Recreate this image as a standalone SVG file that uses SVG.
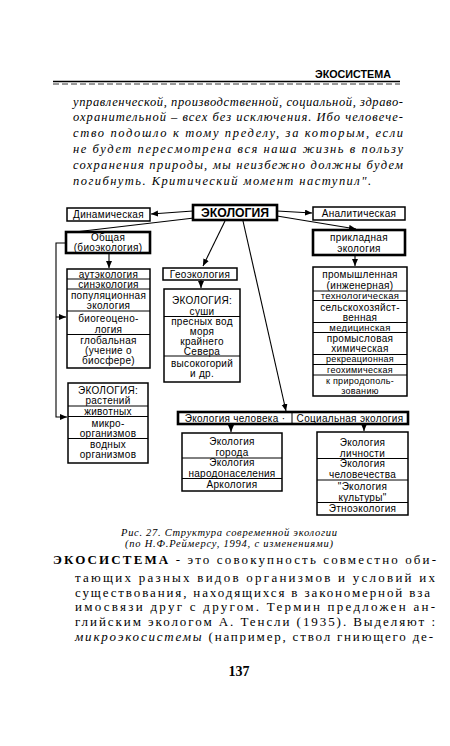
<svg xmlns="http://www.w3.org/2000/svg" width="450" height="746" viewBox="0 0 450 746">
<style>
.bx{fill:#fff;stroke:#000;stroke-width:1.5}
.bk{fill:#fff;stroke:#000;stroke-width:2.6}
.sp{stroke:#000;stroke-width:1;fill:none}
.t{font-family:"Liberation Sans",Arial,sans-serif;font-size:10px;letter-spacing:0.3px;text-anchor:middle;fill:#000}
.s{font-size:9.5px}
.xs{font-size:9px}
.ln{stroke:#000;stroke-width:1.1;fill:none}
.it{font-family:"Liberation Serif","Times New Roman",serif;font-style:italic;font-size:12.5px;fill:#000}
.bd{font-family:"Liberation Serif","Times New Roman",serif;font-size:13px;fill:#000}
.cap{font-family:"Liberation Serif","Times New Roman",serif;font-style:italic;font-size:10.5px;fill:#000}
</style>
<defs>
<marker id="ar" markerUnits="userSpaceOnUse" markerWidth="8" markerHeight="7" refX="7" refY="3" orient="auto">
<path d="M0,0 L7,3 L0,6 z" fill="#000"/>
</marker>
</defs>
<rect width="450" height="746" fill="#fff"/>

<!-- header -->
<g id="header">
<text x="315" y="78" font-family="'Liberation Sans',Arial,sans-serif" font-weight="bold" font-size="11" textLength="76" lengthAdjust="spacingAndGlyphs">ЭКОСИСТЕМА</text>
<line x1="53" y1="81.5" x2="400" y2="81.5" stroke="#000" stroke-width="1.3"/>
<line x1="53" y1="84" x2="400" y2="84" stroke="#000" stroke-width="0.8" stroke-dasharray="6,3"/>
</g>

<!-- italic paragraph -->
<g id="quote">
<text class="it" x="73" y="106" textLength="330" lengthAdjust="spacing">управленческой, производственной, социальной, здраво-</text>
<text class="it" x="73" y="121" textLength="330" lengthAdjust="spacing">охранительной – всех без исключения. Ибо человече-</text>
<text class="it" x="73" y="137" textLength="330" lengthAdjust="spacing">ство подошло к тому пределу, за которым, если</text>
<text class="it" x="73" y="153" textLength="330" lengthAdjust="spacing">не будет пересмотрена вся наша жизнь в пользу</text>
<text class="it" x="73" y="169" textLength="330" lengthAdjust="spacing">сохранения природы, мы неизбежно должны будем</text>
<text class="it" x="73" y="185" textLength="298" lengthAdjust="spacing">погибнуть. Критический момент наступил".</text>
</g>

<!-- connectors -->
<g id="connectors">
<line class="ln" x1="193" y1="211" x2="151" y2="214" marker-end="url(#ar)"/>
<line class="ln" x1="277" y1="211" x2="312" y2="213" marker-end="url(#ar)"/>
<line class="ln" x1="194" y1="218" x2="75" y2="232"/>
<line class="ln" x1="277" y1="216" x2="356" y2="229" marker-end="url(#ar)"/>
<line class="ln" x1="225" y1="221" x2="203" y2="266" marker-end="url(#ar)"/>
<line class="ln" x1="243" y1="221" x2="286" y2="411" marker-end="url(#ar)"/>
<line class="ln" x1="109" y1="253" x2="109" y2="268" marker-end="url(#ar)"/>
<line class="ln" x1="201" y1="280" x2="201" y2="288" marker-end="url(#ar)"/>
<line class="ln" x1="355" y1="255" x2="355" y2="266" marker-end="url(#ar)"/>
<path class="ln" d="M66,243 H56 V417 H67" stroke-width="1.5" marker-end="url(#ar)"/>
<line class="ln" x1="56" y1="317" x2="66" y2="317" marker-end="url(#ar)"/>
<line class="ln" x1="231" y1="424" x2="231" y2="432" marker-end="url(#ar)"/>
<line class="ln" x1="364" y1="424" x2="364" y2="431" marker-end="url(#ar)"/>
</g>

<g id="ecology">
<rect class="bk" x="193" y="205" width="84" height="15"/>
<text x="235" y="217" font-family="'Liberation Sans',Arial,sans-serif" font-weight="bold" font-size="12.5" text-anchor="middle" textLength="68" lengthAdjust="spacingAndGlyphs">ЭКОЛОГИЯ</text>
</g>

<g id="dynamic">
<rect class="bx" x="67" y="208" width="83" height="13"/>
<text class="t" x="108.5" y="218">Динамическая</text>
</g>

<g id="analytic">
<rect class="bx" x="313" y="207" width="92" height="13"/>
<text class="t" x="359" y="217">Аналитическая</text>
</g>

<g id="general">
<rect class="bk" x="66" y="232" width="84" height="21"/>
<text class="t" x="108" y="241">Общая</text>
<text class="t" x="108" y="251">(биоэкология)</text>
</g>

<g id="applied">
<rect class="bk" x="313" y="230" width="92" height="25"/>
<text class="t" x="359" y="241">прикладная</text>
<text class="t" x="359" y="252">экология</text>
</g>

<g id="general-list">
<rect class="bx" x="67" y="269" width="83" height="99"/>
<line class="sp" x1="67" y1="279" x2="150" y2="279"/>
<line class="sp" x1="67" y1="289" x2="150" y2="289"/>
<line class="sp" x1="67" y1="311" x2="150" y2="311"/>
<line class="sp" x1="67" y1="334.5" x2="150" y2="334.5"/>
<text class="t" x="108.5" y="277.5">аутэкология</text>
<text class="t" x="108.5" y="287.5">синэкология</text>
<text class="t" x="108.5" y="298.5">популяционная</text>
<text class="t" x="108.5" y="309">экология</text>
<text class="t" x="108.5" y="321.5">биогеоцено-</text>
<text class="t" x="108.5" y="332.5">логия</text>
<text class="t" x="108.5" y="343.5">глобальная</text>
<text class="t" x="108.5" y="353.5">(учение о</text>
<text class="t" x="108.5" y="363.5">биосфере)</text>
</g>

<g id="bio-list">
<rect class="bx" x="68" y="383" width="80" height="80"/>
<line class="sp" x1="68" y1="406" x2="148" y2="406"/>
<line class="sp" x1="68" y1="416.5" x2="148" y2="416.5"/>
<line class="sp" x1="68" y1="438.5" x2="148" y2="438.5"/>
<text class="t" x="108" y="394" font-size="11.5">ЭКОЛОГИЯ:</text>
<text class="t" x="108" y="404">растений</text>
<text class="t" x="108" y="414.5">животных</text>
<text class="t" x="108" y="426.5">микро-</text>
<text class="t" x="108" y="436.5">организмов</text>
<text class="t" x="108" y="447.5">водных</text>
<text class="t" x="108" y="457.5">организмов</text>
</g>

<g id="geo">
<rect class="bx" x="163" y="268" width="74" height="12"/>
<text class="t" x="200" y="277.5">Геоэкология</text>
</g>

<g id="geo-list">
<rect class="bx" x="164" y="289" width="76" height="93"/>
<line class="sp" x1="164" y1="316.5" x2="240" y2="316.5"/>
<line class="sp" x1="164" y1="356" x2="240" y2="356"/>
<text class="t" x="202" y="303.5" font-size="11.5">ЭКОЛОГИЯ:</text>
<text class="t" x="202" y="314.5">суши</text>
<text class="t" x="202" y="325">пресных вод</text>
<text class="t" x="202" y="335">моря</text>
<text class="t" x="202" y="345">крайнего</text>
<text class="t" x="202" y="354.5">Севера</text>
<text class="t" x="202" y="366.5">высокогорий</text>
<text class="t" x="202" y="376.5">и др.</text>
</g>

<g id="applied-list">
<rect class="bx" x="313" y="267" width="94" height="129"/>
<line class="sp" x1="313" y1="291" x2="407" y2="291"/>
<line class="sp" x1="313" y1="300.5" x2="407" y2="300.5"/>
<line class="sp" x1="313" y1="322.5" x2="407" y2="322.5"/>
<line class="sp" x1="313" y1="332.5" x2="407" y2="332.5"/>
<line class="sp" x1="313" y1="354.5" x2="407" y2="354.5"/>
<line class="sp" x1="313" y1="364.5" x2="407" y2="364.5"/>
<line class="sp" x1="313" y1="375" x2="407" y2="375"/>
<text class="t" x="360" y="277.5">промышленная</text>
<text class="t" x="360" y="288.5">(инженерная)</text>
<text class="t s" x="360" y="298.5">технологическая</text>
<text class="t" x="360" y="310.5">сельскохозяйст-</text>
<text class="t" x="360" y="320.5">венная</text>
<text class="t s" x="360" y="330.5">медицинская</text>
<text class="t" x="360" y="341.5">промысловая</text>
<text class="t" x="360" y="351.5">химическая</text>
<text class="t xs" x="360" y="362">рекреационная</text>
<text class="t xs" x="360" y="372.5">геохимическая</text>
<text class="t xs" x="360" y="384">к природополь-</text>
<text class="t xs" x="360" y="394">зованию</text>
</g>

<g id="human">
<rect class="bk" x="178" y="412" width="230" height="12"/>
<line class="sp" x1="292" y1="412" x2="292" y2="424" stroke-width="1.3"/>
<text class="t" x="235" y="421.5">Экология человека ·</text>
<text class="t" x="350" y="421.5">Социальная экология</text>
</g>

<g id="human-list">
<rect class="bx" x="182" y="433" width="100" height="58"/>
<line class="sp" x1="182" y1="458" x2="282" y2="458"/>
<line class="sp" x1="182" y1="478.5" x2="282" y2="478.5"/>
<text class="t" x="232" y="444.5">Экология</text>
<text class="t" x="232" y="455.5">города</text>
<text class="t" x="232" y="466">Экология</text>
<text class="t" x="232" y="476.5">народонаселения</text>
<text class="t" x="232" y="488">Аркология</text>
</g>

<g id="social-list">
<rect class="bx" x="317" y="432" width="91" height="83"/>
<line class="sp" x1="317" y1="458.5" x2="408" y2="458.5"/>
<line class="sp" x1="317" y1="480" x2="408" y2="480"/>
<line class="sp" x1="317" y1="502.5" x2="408" y2="502.5"/>
<text class="t" x="362.5" y="445.5">Экология</text>
<text class="t" x="362.5" y="456.5">личности</text>
<text class="t" x="362.5" y="466.5">Экология</text>
<text class="t" x="362.5" y="478">человечества</text>
<text class="t" x="362.5" y="489.5">"Экология</text>
<text class="t" x="362.5" y="500.5">культуры"</text>
<text class="t" x="362.5" y="511.5">Этноэкология</text>
</g>

<!-- caption -->
<g id="caption">
<text class="cap" x="121" y="536" textLength="216" lengthAdjust="spacing">Рис. 27. Структура современной экологии</text>
<text class="cap" x="125" y="547" textLength="208" lengthAdjust="spacing">(по Н.Ф.Реймерсу, 1994, с изменениями)</text>
</g>

<!-- body text -->
<g id="body">
<text class="bd" x="53" y="564" textLength="383" lengthAdjust="spacing"><tspan font-weight="bold">ЭКОСИСТЕМА</tspan> - это совокупность совместно оби-</text>
<text class="bd" x="75" y="582" textLength="360" lengthAdjust="spacing">тающих разных видов организмов и условий их</text>
<text class="bd" x="75" y="597" textLength="355" lengthAdjust="spacing">существования, находящихся в закономерной вза</text>
<text class="bd" x="75" y="611" textLength="360" lengthAdjust="spacing">имосвязи друг с другом. Термин предложен ан-</text>
<text class="bd" x="75" y="626" textLength="360" lengthAdjust="spacing">глийским экологом А. Тенсли (1935). Выделяют :</text>
<text class="bd" x="75" y="641" textLength="358" lengthAdjust="spacing"><tspan font-style="italic">микроэкосистемы</tspan> (например, ствол гниющего де-</text>
<text x="239" y="676" font-family="'Liberation Serif','Times New Roman',serif" font-weight="bold" font-size="14" text-anchor="middle">137</text>
</g>
</svg>
